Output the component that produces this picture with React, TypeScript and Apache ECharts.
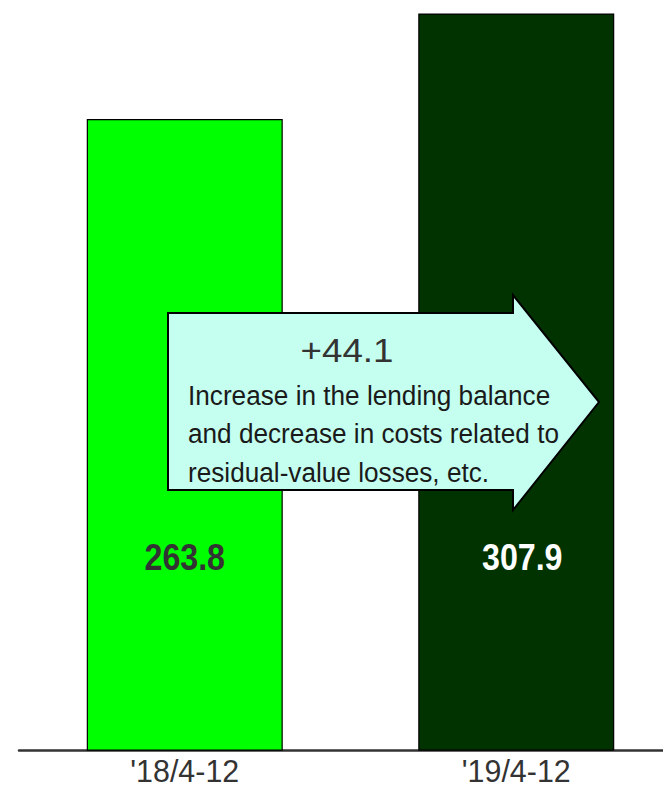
import React, { useEffect, useRef } from "react";
import * as echarts from "echarts";

const categories = ["'18/4-12", "'19/4-12"];
const values = [263.8, 307.9];
const barColors = ["#00FF00", "#003300"];
const labelColors = ["#333333", "#FFFFFF"];
const deltaText = "+44.1";
const noteLines = [
  "Increase in the lending balance",
  "and decrease in costs related to",
  "residual-value losses, etc.",
];

const FONT = "'Liberation Sans', Arial, sans-serif";

export default function App() {
  const ref = useRef<HTMLDivElement>(null);
  useEffect(() => {
    if (!ref.current) return;
    const chart = echarts.init(ref.current, null, { renderer: "svg" });
    chart.setOption({
      animation: false,
      backgroundColor: "#ffffff",
      grid: { left: 19, width: 663, top: 8.4, bottom: 39.3, outerBoundsMode: "none", containLabel: false },
      xAxis: {
        type: "category",
        data: categories,
        axisLine: { lineStyle: { color: "#333333", width: 2.5 } },
        axisTick: { show: false },
        axisLabel: { show: false },
      },
      yAxis: { type: "value", min: 0, max: 310, show: false, splitLine: { show: false } },
      series: [
        {
          type: "bar",
          barWidth: 196,
          data: values.map((v, i) => ({
            value: v,
            itemStyle: { color: barColors[i], borderColor: "#000000", borderWidth: 1.2 },
          })),
        },
      ],
    });

    const baseY = chart.convertToPixel({ yAxisIndex: 0 }, 0) as number;
    const cx = categories.map((c, i) => chart.convertToPixel({ xAxisIndex: 0 }, i) as number);

    const barLabels = values.map((v, i) => ({
      type: "text",
      z: 50,
      x: cx[i] + (i === 1 ? 6 : 0),
      y: baseY - 194,
      scaleX: 0.87,
      style: {
        text: v.toFixed(1),
        fontSize: 37,
        fontWeight: "bold",
        fontFamily: FONT,
        fill: labelColors[i],
        align: "center",
        verticalAlign: "middle",
      },
    }));

    const axisLabels = categories.map((c, i) => ({
      type: "text",
      z: 50,
      x: cx[i],
      y: baseY + 20.5,
      scaleX: 0.95,
      style: {
        text: c,
        fontSize: 32,
        lineHeight: 28,
        fontFamily: FONT,
        fill: "#333333",
        align: "center",
        verticalAlign: "middle",
      },
    }));

    chart.setOption({
      graphic: [
        ...barLabels,
        ...axisLabels,
        {
          type: "polygon",
          z: 100,
          shape: {
            points: [
              [168, 313],
              [513, 313],
              [513, 295],
              [599, 402],
              [513, 510],
              [513, 490],
              [168, 490],
            ],
          },
          style: { fill: "#C4FFF0", stroke: "#000000", lineWidth: 2 },
        },
        {
          type: "text",
          z: 101,
          x: 347,
          y: 350,
          scaleX: 1.08,
          style: {
            text: deltaText,
            fontSize: 34,
            fontFamily: FONT,
            fill: "#333333",
            align: "center",
            verticalAlign: "middle",
          },
        },
        ...noteLines.map((t, i) => ({
          type: "text",
          z: 101,
          x: 188,
          y: 395 + i * 38.5,
          scaleX: 0.935,
          style: {
            text: t,
            fontSize: 28,
            fontFamily: FONT,
            fill: "#1a1a1a",
            align: "left",
            verticalAlign: "middle",
          },
        })),
      ],
    });
    return () => chart.dispose();
  }, []);
  return (
    <div
      ref={ref}
      style={{ position: "absolute", left: 0, top: 0, width: 663, height: 790, overflow: "hidden" }}
    />
  );
}
